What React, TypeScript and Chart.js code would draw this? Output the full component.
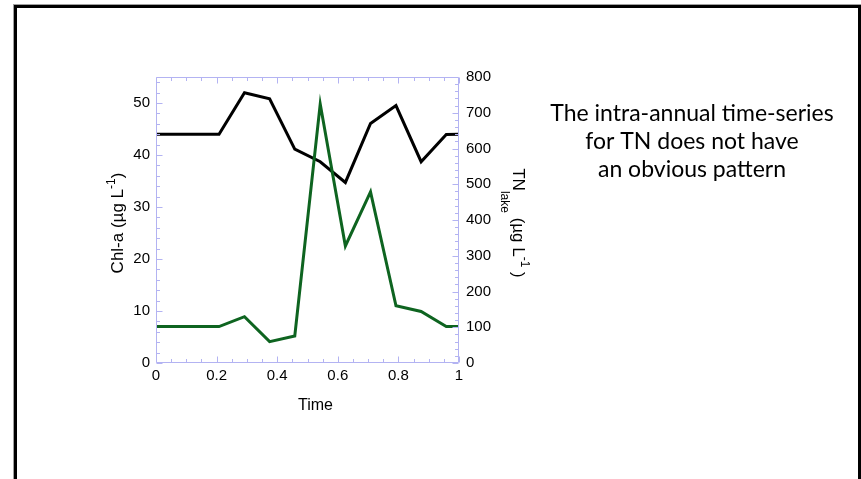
import React, { useEffect, useRef } from "react";
import { Chart, registerables } from "chart.js";
Chart.register(...registerables);

// ---- data ----
const timePoints = [0, 0.208, 0.292, 0.375, 0.458, 0.542, 0.625, 0.708, 0.792, 0.875, 0.958, 1];
const tnLake = [640, 640, 756, 739, 598, 563, 505, 670, 720, 563, 639, 640];
const chlA = [7, 7, 8.9, 4.1, 5.2, 49.8, 22.5, 32.9, 11.0, 9.9, 7.0, 7.0];
const xTicks = [0, 0.2, 0.4, 0.6, 0.8, 1];
const chlTicks = [0, 10, 20, 30, 40, 50];
const tnTicks = [0, 100, 200, 300, 400, 500, 600, 700, 800];
const noteLines = ["The intra-annual time-series", "for TN does not have", "an obvious pattern"];

const FRAME = "#b3b3f2";
const GREEN = "#0e6420";
const AXFONT = "'Liberation Sans', Arial, sans-serif";

const decorPlugin = {
  id: "decor",
  afterDraw(chart: any) {
    const { ctx, chartArea: a, scales } = chart;
    const xs = scales.x, ys = scales.y, y1 = scales.y1;
    ctx.save();
    ctx.strokeStyle = FRAME;
    ctx.lineWidth = 1;
    const L = Math.round(a.left) + 0.5, R = Math.round(a.right) - 0.5;
    const T = Math.round(a.top) + 0.5, B = Math.round(a.bottom) - 0.5;
    ctx.beginPath();
    ctx.rect(L, T, R - L, B - T);
    ctx.stroke();
    const tick = (x1: number, yA: number, x2: number, yB: number) => {
      ctx.beginPath();
      ctx.moveTo(x1, yA);
      ctx.lineTo(x2, yB);
      ctx.stroke();
    };
    // x ticks (bottom and top)
    for (let i = 0; i <= 20; i++) {
      const v = i * 0.05;
      const major = i % 4 === 0;
      const len = major ? 6 : 3.5;
      const px = Math.round(xs.getPixelForValue(v)) + 0.5;
      tick(px, B, px, B - len);
      tick(px, T, px, T + len);
    }
    // left ticks
    for (let v = 0; v <= 54; v += 2) {
      const major = v % 10 === 0;
      const len = major ? 6 : 3.5;
      const py = Math.round(ys.getPixelForValue(v)) + 0.5;
      tick(L, py, L + len, py);
    }
    // right ticks
    for (let v = 0; v <= 800; v += 20) {
      const major = v % 100 === 0;
      const len = major ? 6 : 3.5;
      const py = Math.round(y1.getPixelForValue(v)) + 0.5;
      tick(R, py, R - len, py);
    }

    ctx.fillStyle = "#000";
    // x title
    ctx.font = `16px ${AXFONT}`;
    ctx.textAlign = "center";
    ctx.textBaseline = "alphabetic";
    ctx.fillText("Time", (a.left + a.right) / 2 + 8, 410);

    const drawRuns = (runs: { t: string; size: number; dy: number }[], cx: number, cy: number, rot: number) => {
      ctx.save();
      ctx.translate(cx, cy);
      ctx.rotate(rot);
      ctx.textAlign = "left";
      ctx.textBaseline = "alphabetic";
      let total = 0;
      for (const r of runs) {
        ctx.font = `${r.size}px ${AXFONT}`;
        total += ctx.measureText(r.t).width;
      }
      let x = -total / 2;
      for (const r of runs) {
        ctx.font = `${r.size}px ${AXFONT}`;
        ctx.fillText(r.t, x, r.dy);
        x += ctx.measureText(r.t).width;
      }
      ctx.restore();
    };
    // left title (rotated -90)
    drawRuns(
      [
        { t: "Chl-a (\u00b5g L", size: 17, dy: 0 },
        { t: "-1", size: 12, dy: -8 },
        { t: ")", size: 17, dy: 0 },
      ],
      123,
      (a.top + a.bottom) / 2 + 3,
      -Math.PI / 2
    );
    // right title (rotated +90)
    drawRuns(
      [
        { t: "TN", size: 17, dy: 0 },
        { t: "lake", size: 12, dy: 12 },
        { t: " (\u00b5g L", size: 17, dy: 0 },
        { t: "-1", size: 12, dy: -8 },
        { t: " )", size: 17, dy: 0 },
      ],
      513,
      (a.top + a.bottom) / 2 + 3,
      Math.PI / 2
    );

    // note text
    ctx.font = "23px Lato, 'Open Sans', sans-serif";
    ctx.textAlign = "center";
    noteLines.forEach((line, i) => {
      ctx.fillText(line, 692, 121 + i * 28);
    });
    ctx.restore();
  },
};

export default function App() {
  const ref = useRef<HTMLCanvasElement | null>(null);
  useEffect(() => {
    if (!ref.current) return;
    const tickFont = { family: AXFONT, size: 15 };
    const chart = new Chart(ref.current, {
      type: "line",
      data: {
        datasets: [
          {
            label: "Chl-a",
            data: timePoints.map((t, i) => ({ x: t, y: chlA[i] })),
            borderColor: GREEN,
            borderWidth: 3,
            pointRadius: 0,
            yAxisID: "y",
            tension: 0,
          },
          {
            label: "TN",
            data: timePoints.map((t, i) => ({ x: t, y: tnLake[i] })),
            borderColor: "#000",
            borderWidth: 3,
            pointRadius: 0,
            yAxisID: "y1",
            tension: 0,
          },
        ],
      },
      options: {
        responsive: false,
        animation: false,
        layout: { padding: { top: 77, left: 0, right: 0, bottom: 0 } },
        plugins: { legend: { display: false }, tooltip: { enabled: false } },
        scales: {
          x: {
            type: "linear",
            min: 0,
            max: 1,
            afterBuildTicks: (s: any) => {
              s.ticks = xTicks.map((v) => ({ value: v }));
            },
            afterFit: (s: any) => {
              s.height = 116;
            },
            ticks: { font: tickFont, color: "#000", padding: 4, maxRotation: 0, autoSkip: false, callback: (v: any) => String(v) },
            grid: { display: false, drawTicks: false },
            border: { display: false },
          },
          y: {
            type: "linear",
            position: "left",
            min: 0,
            max: 55,
            afterBuildTicks: (s: any) => {
              s.ticks = chlTicks.map((v) => ({ value: v }));
            },
            afterFit: (s: any) => {
              s.width = 156;
            },
            ticks: { font: tickFont, color: "#000", padding: 6, autoSkip: false, callback: (v: any) => String(v) },
            grid: { display: false, drawTicks: false },
            border: { display: false },
          },
          y1: {
            type: "linear",
            position: "right",
            min: 0,
            max: 800,
            afterBuildTicks: (s: any) => {
              s.ticks = tnTicks.map((v) => ({ value: v }));
            },
            afterFit: (s: any) => {
              s.width = 402;
            },
            ticks: { font: tickFont, color: "#000", padding: 7, autoSkip: false, callback: (v: any) => String(v) },
            grid: { display: false, drawTicks: false },
            border: { display: false },
          },
        },
      },
      plugins: [decorPlugin],
    });
    return () => chart.destroy();
  }, []);

  return (
    <>
      <div
        style={{
          position: "absolute",
          left: 13,
          top: 4,
          width: 848,
          height: 520,
          borderTop: "1px solid #a0a0a0",
          borderLeft: "1px solid #a0a0a0",
          boxSizing: "border-box",
          background: "#fff",
        }}
      >
        <div style={{ width: "100%", height: "100%", border: "3px solid #000", boxSizing: "border-box" }} />
      </div>
      <canvas
        ref={ref}
        width={861}
        height={479}
        style={{ position: "absolute", left: 0, top: 0, width: 861, height: 479 }}
      />
    </>
  );
}
